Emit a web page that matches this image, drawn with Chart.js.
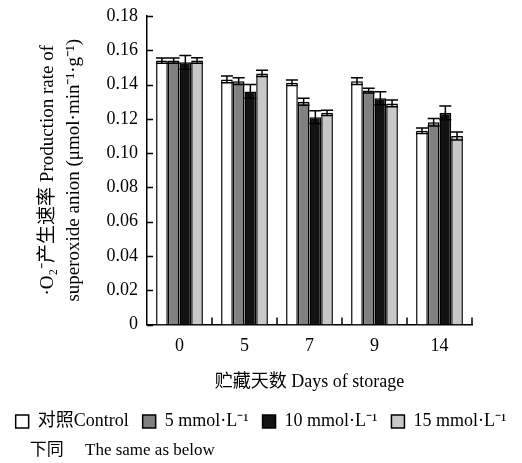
<!DOCTYPE html>
<html>
<head>
<meta charset="utf-8">
<script src="https://cdn.jsdelivr.net/npm/chart.js@4/dist/chart.umd.min.js"></script>
<style>
  html, body { margin: 0; padding: 0; background: #fff; }
  #wrap { width: 522px; height: 463px; position: relative; }
</style>
</head>
<body>
<div id="wrap"><canvas id="chart"></canvas></div>
<script>
// storage days and treatments
const days = ['0', '5', '7', '9', '14'];
const seriesNames = ['对照Control', '5 mmol·L⁻¹', '10 mmol·L⁻¹', '15 mmol·L⁻¹'];

// mean O2- production rate (µmol·min-1·g-1)
const control = [0.154, 0.143, 0.141, 0.142, 0.113];
const mm5 = [0.154, 0.142, 0.130, 0.1365, 0.118];
const mm10 = [0.153, 0.136, 0.121, 0.132, 0.1235];
const mm15 = [0.154, 0.1465, 0.1235, 0.129, 0.110];

// error bar half-widths
const controlErr = [0.0015, 0.002, 0.0016, 0.002, 0.0016];
const mm5Err = [0.0015, 0.002, 0.002, 0.0014, 0.0022];
const mm10Err = [0.004, 0.004, 0.0037, 0.0038, 0.004];
const mm15Err = [0.0016, 0.0018, 0.0015, 0.002, 0.0023];

const fills = ['#ffffff', '#808080', '#121212', '#c8c8c8'];
const serif = "'Liberation Serif', 'Times New Roman', 'Noto Sans CJK SC', serif";

const errorBars = {
  id: 'errorBars',
  afterDatasetsDraw(chart) {
    const ctx = chart.ctx;
    const y = chart.scales.y;
    ctx.save();
    ctx.strokeStyle = '#000';
    ctx.lineWidth = 1.5;
    chart.data.datasets.forEach((ds, i) => {
      const meta = chart.getDatasetMeta(i);
      meta.data.forEach((bar, j) => {
        const v = ds.data[j], e = ds.err[j];
        const top = y.getPixelForValue(v + e);
        const bot = y.getPixelForValue(v - e);
        const half = 6;
        ctx.beginPath();
        ctx.moveTo(bar.x, top); ctx.lineTo(bar.x, bot);
        ctx.moveTo(bar.x - half, top); ctx.lineTo(bar.x + half, top);
        ctx.moveTo(bar.x - half, bot); ctx.lineTo(bar.x + half, bot);
        ctx.stroke();
      });
    });
    ctx.restore();
  }
};

// tick marks pointing into the plot
const innerTicks = {
  id: 'innerTicks',
  afterDraw(chart) {
    const ctx = chart.ctx;
    const { x, y } = chart.scales;
    ctx.save();
    ctx.strokeStyle = '#000';
    ctx.lineWidth = 1.5;
    ctx.beginPath();
    y.ticks.forEach(t => {
      const py = Math.round(y.getPixelForValue(t.value)) + 0.5;
      ctx.moveTo(y.right, py); ctx.lineTo(y.right + 6, py);
    });
    const step = x.width / days.length;
    for (let i = 1; i <= days.length; i++) {
      const px = x.left + step * i;
      ctx.moveTo(px, x.top); ctx.lineTo(px, x.top - 7);
    }
    ctx.stroke();
    ctx.restore();
  }
};

new Chart(document.getElementById('chart'), {
  type: 'bar',
  data: {
    labels: days,
    datasets: [control, mm5, mm10, mm15].map((d, i) => ({
      label: seriesNames[i],
      data: d,
      err: [controlErr, mm5Err, mm10Err, mm15Err][i],
      backgroundColor: fills[i],
      borderColor: '#000',
      borderWidth: 1.5,
      barPercentage: 1,
      categoryPercentage: 0.72
    }))
  },
  options: {
    responsive: true,
    maintainAspectRatio: false,
    animation: false,
    layout: { padding: { top: 16, left: 0, right: 0, bottom: 0 } },
    scales: {
      x: {
        grid: { display: false },
        border: { display: true, color: '#000', width: 1.5 },
        ticks: { color: '#000', padding: 3, font: { family: serif, size: 18 } },
        title: {
          display: true,
          text: '贮藏天数 Days of storage',
          color: '#000',
          font: { family: serif, size: 18 },
          padding: { top: 0, bottom: 6 }
        },
        afterFit(s) { s.height = 74; }
      },
      y: {
        min: 0,
        max: 0.18,
        grid: { display: false },
        border: { display: true, color: '#000', width: 1.5 },
        ticks: {
          stepSize: 0.02,
          color: '#000',
          padding: 1,
          font: { family: serif, size: 18 },
          callback: v => (v === 0 ? '0' : v.toFixed(2))
        },
        title: {
          display: true,
          text: ['·O₂⁻产生速率 Production rate of', 'superoxide anion (μmol·min⁻¹·g⁻¹)'],
          color: '#000',
          font: { family: serif, size: 19, lineHeight: 1.37 },
          padding: { top: 35, bottom: 0 }
        },
        afterFit(s) { s.width = 147; }
      },
      pad: {
        position: 'right',
        display: true,
        grid: { display: false },
        border: { display: false },
        ticks: { display: false },
        afterFit(s) { s.width = 50; }
      }
    },
    plugins: {
      legend: {
        position: 'bottom',
        labels: {
          color: '#000',
          boxWidth: 13,
          boxHeight: 13,
          padding: 14,
          font: { family: serif, size: 18 }
        }
      },
      subtitle: {
        display: true,
        position: 'bottom',
        align: 'start',
        text: '       下同     The same as below',
        color: '#000',
        font: { family: serif, size: 17 },
        padding: { top: 0, bottom: 2 }
      },
      tooltip: { enabled: false }
    }
  },
  plugins: [errorBars, innerTicks]
});
</script>
</body>
</html>
